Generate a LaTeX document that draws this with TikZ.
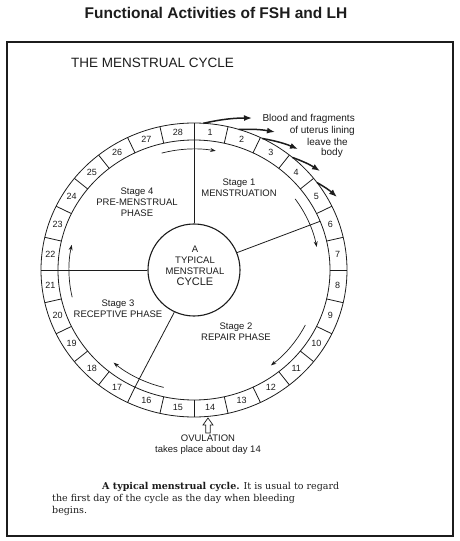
\documentclass[tikz,border=0pt]{standalone}
\usepackage{fontspec}
\setmainfont{Liberation Sans}
\newfontfamily\captionserif{DejaVu Serif}
\usetikzlibrary{arrows.meta}
\definecolor{inkgray}{RGB}{28, 28, 28}
% one cell of the day ring: boundary line at its start and its number
\newcommand{\daycell}[1]{%
    \draw[ring line] ({90-(#1-1)*360/28}:136 and 130)
        -- ({90-(#1-1)*360/28}:153 and 147);
    \node[day num] (day#1) at ({90-(#1-0.5)*360/28}:144.5 and 138.5) {#1};
}

\begin{document}
\begin{tikzpicture}[
    x=1pt, y=1pt,
    >={Stealth[length=5.5pt,width=4pt]},
    every node/.style={font=\fontsize{9.5}{11}\selectfont, text=inkgray, inner sep=0pt},
    ring line/.style={inkgray, line width=0.8pt},
    day num/.style={font=\fontsize{9}{10}\selectfont},
    stage arrow/.style={->, inkgray, line width=0.7pt},
    blood arrow/.style={-{Latex[length=8pt,width=6pt]}, inkgray, line width=1.5pt},
    stage label/.style={align=center, font=\fontsize{9.5}{11}\selectfont}
]
\useasboundingbox (-194,-271) rectangle (265,270);

% =============================================
% Headings and frame
% =============================================
\node[font=\fontsize{15.5}{18}\selectfont\bfseries] (title) at (22,257)
    {Functional Activities of FSH and LH};
\draw[inkgray, line width=1.1pt] (-187,228) rectangle (259,-266);
\node[font=\fontsize{13.5}{16}\selectfont] (heading) at (-41.5,207)
    {THE MENSTRUAL CYCLE};

% =============================================
% Ring of days
% =============================================
\draw[ring line] (0,0) ellipse [x radius=153, y radius=147];
\draw[ring line] (0,0) ellipse [x radius=136, y radius=130];
\daycell{1}  \daycell{2}  \daycell{3}  \daycell{4}
\daycell{5}  \daycell{6}  \daycell{7}  \daycell{8}
\daycell{9}  \daycell{10} \daycell{11} \daycell{12}
\daycell{13} \daycell{14} \daycell{15} \daycell{16}
\daycell{17} \daycell{18} \daycell{19} \daycell{20}
\daycell{21} \daycell{22} \daycell{23} \daycell{24}
\daycell{25} \daycell{26} \daycell{27} \daycell{28}

% =============================================
% Hub and stage dividers
% =============================================
\node[circle, draw=inkgray, line width=1.1pt, minimum size=92pt] (hub) at (0,0) {};
\node[align=center] (hubtext) at (1,4)
    {A\\TYPICAL\\MENSTRUAL\\{\fontsize{11}{12}\selectfont CYCLE}};

\coordinate (div1) at (90:136 and 130);
\coordinate (div2) at (22:136 and 130);
\coordinate (div3) at ({90-16*360/28}:136 and 130);
\coordinate (div4) at (180:136 and 130);
\draw[ring line] (hub.90) -- (div1);
\draw[ring line] (hub.22) -- (div2);
\draw[ring line] (hub.{90-16*360/28}) -- (div3);
\draw[ring line] (hub.180) -- (div4);

% Stage labels
\node[stage label] (stage1) at (45,82) {Stage 1\\MENSTRUATION};
\node[stage label] (stage2) at (42,-61.5) {Stage 2\\REPAIR PHASE};
\node[stage label] (stage3) at (-76,-38.5) {Stage 3\\RECEPTIVE PHASE};
\node[stage label] (stage4) at (-57,68) {Stage 4\\PRE-MENSTRUAL\\PHASE};

% Clockwise arrows inside the ring
\draw[stage arrow] (105:125 and 121) arc[start angle=105, end angle=80, x radius=125, y radius=121];
\draw[stage arrow] (36:125 and 121) arc[start angle=36, end angle=11, x radius=125, y radius=121];
\draw[stage arrow] (-27:125 and 121) arc[start angle=-27, end angle=-52, x radius=125, y radius=121];
\draw[stage arrow] (-104:125 and 121) arc[start angle=-104, end angle=-130, x radius=125, y radius=121];
\draw[stage arrow] (193:125 and 121) arc[start angle=193, end angle=168, x radius=125, y radius=121];

% =============================================
% Bleeding: arrows leaving days 1 to 5
% =============================================
\coordinate (bleed1) at (86.5:153 and 147);
\coordinate (bleed2) at (73:153 and 147);
\coordinate (bleed3) at (63.5:153 and 147);
\coordinate (bleed4) at (50:153 and 147);
\coordinate (bleed5) at (36.5:153 and 147);
\coordinate (out1) at (58,152);
\coordinate (out2) at (81,138);
\coordinate (out3) at (104,121);
\coordinate (out4) at (126,99);
\coordinate (out5) at (143,73);
\draw[blood arrow] (bleed1) to[bend left=6] (out1);
\draw[blood arrow] (bleed2) to[bend left=6] (out2);
\draw[blood arrow] (bleed3) to[bend left=6] (out3);
\draw[blood arrow] (bleed4) to[bend left=6] (out4);
\draw[blood arrow] (bleed5) to[bend left=6] (out5);

\node[anchor=east, font=\fontsize{10}{12}\selectfont] (blood1) at (161,151) {Blood and fragments};
\node[anchor=east, font=\fontsize{10}{12}\selectfont] (blood2) at (161,139) {of uterus lining};
\node[anchor=east, font=\fontsize{10}{12}\selectfont] (blood3) at (154,128) {leave the};
\node[anchor=east, font=\fontsize{10}{12}\selectfont] (blood4) at (149,117) {body};

% =============================================
% Ovulation
% =============================================
\draw[inkgray, line width=0.7pt, fill=white]
    (14,-148) -- (19,-155) -- (16.2,-155) -- (16.2,-163)
    -- (11.8,-163) -- (11.8,-155) -- (9,-155) -- cycle;
\node[stage label] (ovulation) at (14,-174.5) {OVULATION\\takes place about day 14};

% =============================================
% Caption
% =============================================
\node[anchor=north west, align=left, font=\captionserif\fontsize{9.5}{12}\selectfont] (caption)
    at (-142,-212)
    {\hspace*{50pt}\textbf{A typical menstrual cycle.} It is usual to regard\\
     the first day of the cycle as the day when bleeding\\
     begins.};

\end{tikzpicture}
\end{document}
